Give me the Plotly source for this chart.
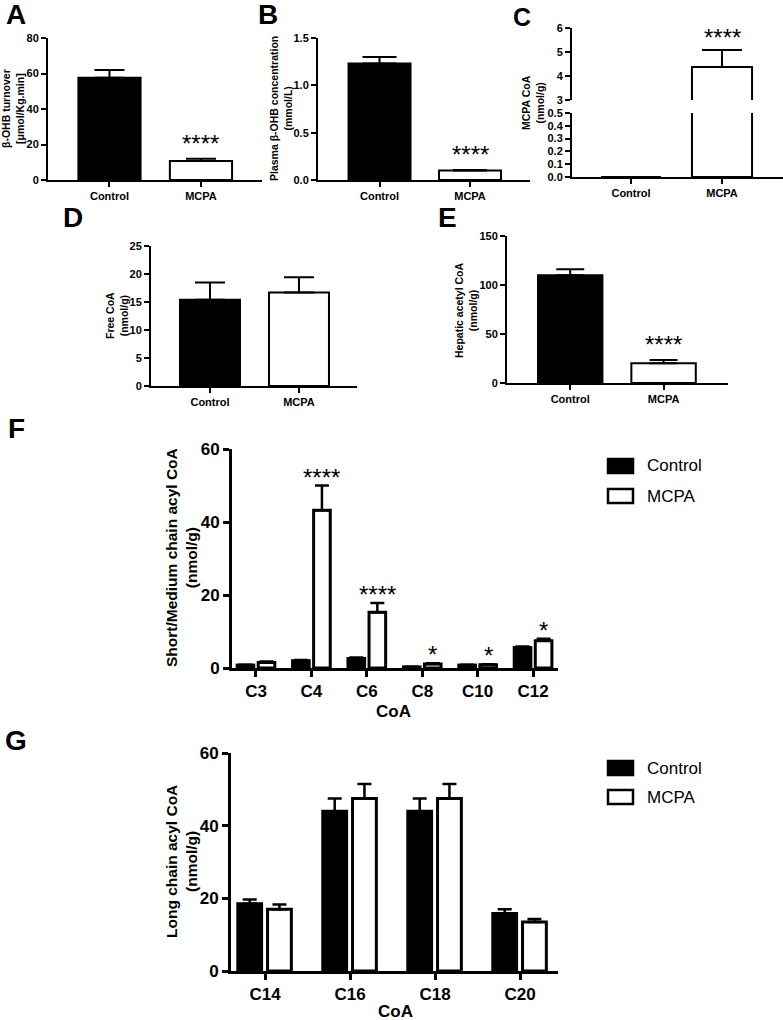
import plotly.graph_objects as go

# ---------------- data ----------------
groups = ["Control", "MCPA"]

A_mean = [57.6, 10.7]
A_err = [4.4, 1.3]

B_mean = [1.23, 0.10]
B_err = [0.07, 0.005]

C_mean = [0.0, 4.38]
C_err = [0.0, 0.70]

D_mean = [15.4, 16.7]
D_err = [3.1, 2.7]

E_mean = [110.0, 20.1]
E_err = [6.0, 3.4]

F_cats = ["C3", "C4", "C6", "C8", "C10", "C12"]
F_control = [0.8, 2.0, 2.6, 0.3, 0.8, 5.6]
F_control_err = [0.1, 0.2, 0.3, 0.05, 0.1, 0.3]
F_mcpa = [1.5, 43.2, 15.3, 1.1, 0.9, 7.5]
F_mcpa_err = [0.3, 6.8, 2.5, 0.2, 0.15, 0.5]
F_stars = ["", "****", "****", "*", "*", "*"]

G_cats = ["C14", "C16", "C18", "C20"]
G_control = [18.5, 44.0, 44.0, 15.8]
G_control_err = [1.2, 3.5, 3.5, 1.2]
G_mcpa = [17.0, 47.5, 47.5, 13.5]
G_mcpa_err = [1.3, 4.0, 4.0, 0.8]

W, H = 783, 1020
FONT = "Liberation Sans"


def fx(px):
    return px / W


def fy(py):
    return 1 - py / H


fig = go.Figure()

panels = {
    "1": dict(x=(48, 262), y=(38, 180), xr=[-0.672, 1.667], yr=[0, 80], dt=20, fmt="", small=True),
    "2": dict(x=(318, 530), y=(38, 180), xr=[-0.68, 1.663], yr=[0, 1.5], dt=0.5, fmt=".1f", small=True),
    "3": dict(x=(572, 783), y=(113, 177), xr=[-0.648, 1.67], yr=[0, 0.5], dt=0.1, fmt=".1f", small=True),
    "4": dict(x=(572, 783), y=(28, 100), xr=[-0.648, 1.67], yr=[3, 6], dt=1, fmt="", small=True, hidex=True),
    "5": dict(x=(151, 357), y=(246, 386), xr=[-0.663, 1.652], yr=[0, 25], dt=5, fmt="", small=True),
    "6": dict(x=(507, 728), y=(236, 383), xr=[-0.677, 1.69], yr=[0, 150], dt=50, fmt="", small=True),
    "7": dict(x=(232, 558), y=(449, 668), xr=[-0.433, 5.45], yr=[0, 60], dt=20, fmt="", small=False),
    "8": dict(x=(231, 558), y=(753, 971), xr=[-0.4, 3.447], yr=[0, 60], dt=20, fmt="", small=False),
}

layout_axes = {}
for k, p in panels.items():
    xn = "xaxis" if k == "1" else f"xaxis{k}"
    yn = "yaxis" if k == "1" else f"yaxis{k}"
    small = p["small"]
    lw = 2 if small else 3
    fs = 11 if small else 17
    hidex = p.get("hidex", False)
    layout_axes[xn] = dict(
        domain=[fx(p["x"][0]), fx(p["x"][1])],
        anchor="y" if k == "1" else f"y{k}",
        range=p["xr"], automargin=False,
        showline=not hidex, linecolor="black", linewidth=lw,
        ticks="" if hidex else "outside", ticklen=5 if small else 6, tickwidth=lw, tickcolor="black",
        showticklabels=not hidex,
        tickfont=dict(family=FONT, size=fs, color="black", weight="bold"),
        showgrid=False, zeroline=False, fixedrange=True,
    )
    layout_axes[yn] = dict(
        domain=[fy(p["y"][1]), fy(p["y"][0])],
        anchor="x" if k == "1" else f"x{k}",
        range=p["yr"], dtick=p["dt"], tick0=p["yr"][0], tickformat=p["fmt"], automargin=False,
        showline=True, linecolor="black", linewidth=lw,
        ticks="outside", ticklen=5 if small else 6, tickwidth=lw, tickcolor="black",
        tickfont=dict(family=FONT, size=fs, color="black", weight="bold"),
        showgrid=False, zeroline=False, fixedrange=True,
    )


def axref(k):
    return ("x" if k == "1" else f"x{k}"), ("y" if k == "1" else f"y{k}")


def single_panel(k, means, errs, width, capw):
    xa, ya = axref(k)
    fig.add_trace(go.Bar(
        x=groups, y=means, width=width,
        marker=dict(color=["black", "white"], line=dict(color="black", width=2)),
        error_y=dict(type="data", array=errs, arrayminus=[0] * len(errs), symmetric=False,
                     color="black", thickness=2, width=capw),
        xaxis=xa, yaxis=ya, showlegend=False, cliponaxis=True,
    ))


single_panel("1", A_mean, A_err, 0.68, 15)
single_panel("2", B_mean, B_err, 0.685, 17)
single_panel("3", C_mean, C_err, 0.66, 20)
single_panel("4", C_mean, C_err, 0.66, 20)
single_panel("5", D_mean, D_err, 0.674, 15)
single_panel("6", E_mean, E_err, 0.69, 14)


def group_panel(k, cats, c, ce, m, me, offs_c, offs_m, width, capw):
    xa, ya = axref(k)
    fig.add_trace(go.Bar(
        x=cats, y=c, offset=offs_c, width=width,
        marker=dict(color="black", line=dict(color="black", width=3)),
        error_y=dict(type="data", array=ce, arrayminus=[0] * len(ce), symmetric=False,
                     color="black", thickness=2.5, width=capw),
        xaxis=xa, yaxis=ya, showlegend=False, name="Control",
    ))
    fig.add_trace(go.Bar(
        x=cats, y=m, offset=offs_m, width=width,
        marker=dict(color="white", line=dict(color="black", width=3)),
        error_y=dict(type="data", array=me, arrayminus=[0] * len(me), symmetric=False,
                     color="black", thickness=2.5, width=capw),
        xaxis=xa, yaxis=ya, showlegend=False, name="MCPA",
    ))


group_panel("7", F_cats, F_control, F_control_err, F_mcpa, F_mcpa_err, -0.34, 0.04, 0.30, 7)
group_panel("8", G_cats, G_control, G_control_err, G_mcpa, G_mcpa_err, -0.32, 0.03, 0.28, 7)

annotations = []
shapes = []

letters = [("A", 16, 15, 28), ("B", 268, 15, 28), ("D", 73, 217, 28),
           ("E", 447, 217, 28), ("F", 16, 428, 28), ("G", 16, 740, 28)]
for t, px, py, fs in letters:
    annotations.append(dict(text=t, x=fx(px), y=fy(py), xref="paper", yref="paper",
                            xanchor="center", yanchor="middle", showarrow=False,
                            font=dict(family=FONT, size=fs, color="black", weight="bold")))
# letter C sits at the very top edge
annotations.append(dict(text="C", x=fx(522), y=1, xref="paper", yref="paper",
                        xanchor="center", yanchor="top", showarrow=False, yshift=-1,
                        font=dict(family=FONT, size=25, color="black", weight="bold")))

ytitles = [
    ("β-OHB turnover<br>[μmol/Kg.min]", 13, 109, 10.5),
    ("Plasma β-OHB concentration<br>(mmol/L)", 281, 109, 10.5),
    ("MCPA CoA<br>(nmol/g)", 533, 103, 10.5),
    ("Free CoA<br>(nmol/g)", 117, 316, 10.5),
    ("Hepatic acetyl CoA<br>(nmol/g)", 466, 310, 10.5),
    ("Short/Medium chain acyl CoA<br>(nmol/g)", 181, 558, 15.5),
    ("Long chain acyl CoA<br>(nmol/g)", 181, 862, 15.5),
]
for t, px, py, fs in ytitles:
    annotations.append(dict(text=t, x=fx(px), y=fy(py), xref="paper", yref="paper",
                            xanchor="center", yanchor="middle", showarrow=False, textangle=-90,
                            font=dict(family=FONT, size=fs, color="black", weight="bold")))

for px, py in [(393, 711), (395, 1011)]:
    annotations.append(dict(text="CoA", x=fx(px), y=fy(py), xref="paper", yref="paper",
                            xanchor="center", yanchor="middle", showarrow=False,
                            font=dict(family=FONT, size=17, color="black", weight="bold")))

STAR = dict(family=FONT, size=24, color="black")


def star(k, x, yval, text, yshift):
    xa, ya = axref(k)
    annotations.append(dict(text=text, x=x, y=yval, xref=xa, yref=ya, xanchor="center",
                            yanchor="bottom", showarrow=False, yshift=yshift, font=STAR))


star("1", 1, A_mean[1] + A_err[1], "****", 0)
star("2", 1, B_mean[1] + B_err[1], "****", 0)
star("4", 1, C_mean[1] + C_err[1], "****", -3)
star("6", 1, E_mean[1] + E_err[1], "****", 0)
for i, s in enumerate(F_stars):
    if s:
        star("7", i + 0.19, F_mcpa[i] + F_mcpa_err[i], s, -7)

for (y1, y2) in [(466, 496), (768, 797)]:
    for yc, col, label in [(y1, "black", "Control"), (y2, "white", "MCPA")]:
        shapes.append(dict(type="rect", xref="paper", yref="paper",
                           x0=fx(608), x1=fx(633), y0=fy(yc + 7), y1=fy(yc - 7),
                           fillcolor=col, line=dict(color="black", width=2.5)))
        annotations.append(dict(text=label, x=fx(645), y=fy(yc), xref="paper", yref="paper",
                                xanchor="left", yanchor="middle", showarrow=False,
                                font=dict(family=FONT, size=17, color="black")))

fig.update_layout(
    width=W, height=H,
    margin=dict(l=0, r=0, t=0, b=0, pad=0, autoexpand=False),
    paper_bgcolor="white", plot_bgcolor="white",
    barmode="group",
    annotations=annotations, shapes=shapes,
    showlegend=False,
    **layout_axes,
)

fig.write_html("out.html", config={"displayModeBar": False},
               post_script="document.body.style.margin='0px';document.body.style.overflow='hidden';")
